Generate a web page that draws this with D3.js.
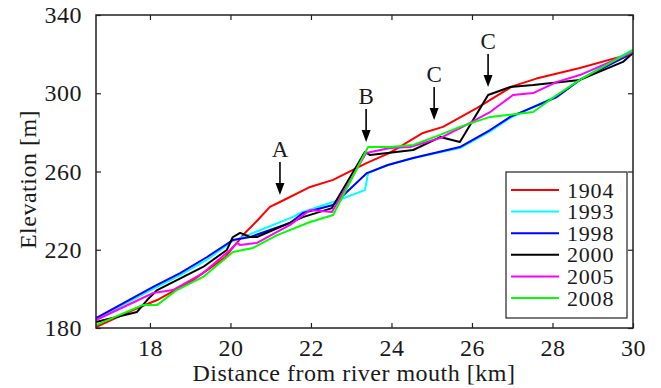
<!DOCTYPE html>
<html>
<head>
<meta charset="utf-8">
<script src="https://cdn.jsdelivr.net/npm/d3@7"></script>
<style>
  body { margin: 0; background: #fff; }
  svg text { font-family: 'Liberation Serif', 'Times New Roman', Times, 'DejaVu Serif', serif !important; fill: #1a1a1a; }
</style>
</head>
<body>
<div id="chart"></div>
<script>
// Longitudinal river bed profiles (km, m)
const years = ['1904', '1993', '1998', '2000', '2005', '2008'];
const colors = ['#ff0000', '#00ffff', '#0000ff', '#000000', '#ff00ff', '#00ff00'];

const p1904 = [[16.66,180.5],[17.58,189.2],[18.18,194.3],[19.07,204.5],[19.86,216.0],[20.36,228.6],[20.68,235.2],
  [20.98,241.9],[21.23,244.4],[21.98,252.1],[22.55,255.7],[23.39,264.4],[23.96,269.5],[24.78,279.7],[25.28,282.8],
  [26.13,292.5],[27.0,303.5],[27.6,307.5],[28.68,312.9],[29.85,319.6],[30.0,320.5]];
const p1993 = [[16.66,184.5],[18.08,200.0],[18.75,207.0],[19.42,215.0],[20.06,224.5],[20.49,228.0],[21.48,236.2],
  [21.80,239.3],[22.55,244.4],[23.34,250.5],[23.42,259.2],[23.91,263.3],[24.54,266.9],[25.70,272.0],[26.45,280.5],
  [26.95,287.4],[28.11,298.6],[28.68,307.0],[30.0,322.3]];
const p1998 = [[16.66,185.1],[18.08,201.0],[18.75,208.1],[19.42,216.3],[20.06,225.0],[20.49,226.5],[21.48,233.7],
  [21.80,238.8],[22.55,242.9],[23.39,259.2],[23.91,263.3],[24.54,266.9],[25.70,272.5],[26.45,281.2],[26.95,287.9],
  [28.11,298.1],[28.68,306.8],[30.0,320.6]];
const p2000 = [[16.66,183.1],[17.68,188.2],[17.93,194.3],[18.18,199.4],[19.32,211.2],[19.91,219.9],[20.06,226.5],
  [20.24,228.6],[20.49,226.5],[20.66,226.5],[21.80,236.7],[22.52,241.3],[23.34,270.0],[23.47,268.4],[24.54,271.0],
  [25.21,277.6],[25.70,275.1],[26.40,299.1],[26.95,303.2],[27.52,304.2],[28.68,306.8],[29.75,316.0],[30.0,320.6]];
const p2005 = [[16.66,184.1],[18.08,197.9],[18.57,199.4],[19.32,208.1],[19.99,219.9],[20.16,223.5],[20.24,222.4],
  [20.66,223.5],[21.48,232.7],[21.98,240.3],[22.52,239.3],[23.37,269.5],[23.96,272.0],[24.46,272.5],[25.21,277.1],
  [25.95,284.8],[26.45,290.4],[27.02,299.1],[27.52,300.1],[28.11,305.8],[28.68,309.3],[30.0,321.1]];
const p2008 = [[16.66,181.5],[17.83,191.8],[18.18,191.8],[18.67,199.4],[19.32,206.1],[20.06,218.8],[20.56,220.9],
  [21.16,227.5],[21.98,234.2],[22.55,237.8],[23.42,272.5],[23.96,272.5],[24.54,273.6],[25.21,278.7],[25.70,282.8],
  [26.45,287.9],[27.52,290.4],[28.11,299.1],[28.68,306.8],[30.0,322.1]];
const profiles = [p1904, p1993, p1998, p2000, p2005, p2008];

const xTicks = [18, 20, 22, 24, 26, 28, 30];
const yTicks = [180, 220, 260, 300, 340];

// Annotation arrows: label, distance, elevation at the arrow tip
const marks = [['A', 21.23, 248.0], ['B', 23.37, 275.1], ['C', 25.06, 286.3], ['C', 26.40, 303.2]];

const width = 661, height = 388;
const margin = {top: 15, right: 28, bottom: 60, left: 96};
const xScale = d3.scaleLinear().domain([16.66, 30]).range([margin.left, width - margin.right]);
const yScale = d3.scaleLinear().domain([180, 340]).range([height - margin.bottom, margin.top]);

const svg = d3.select('#chart').append('svg')
  .attr('width', width)
  .attr('height', height);

// profile lines
const line = d3.line().x(d => xScale(d[0])).y(d => yScale(d[1]));
svg.selectAll('path.profile')
  .data(profiles)
  .enter().append('path')
  .attr('class', 'profile')
  .attr('d', line)
  .attr('fill', 'none')
  .attr('stroke', (d, i) => colors[i])
  .attr('stroke-width', 2)
  .attr('stroke-linejoin', 'round');

// axes, ticks pointing inwards on all four sides
const tickLen = 5;
const axisStyle = g => {
  g.attr('font-family', null);
  g.select('.domain').remove();
  g.selectAll('line').attr('stroke', '#222').attr('stroke-width', 1.2);
  g.selectAll('text').attr('font-size', 24).attr('letter-spacing', 0.5).attr('fill', '#1a1a1a');
};
svg.append('g')
  .attr('transform', `translate(0,${yScale(180)})`)
  .call(d3.axisBottom(xScale).tickValues(xTicks).tickSize(-tickLen).tickPadding(11).tickFormat(d3.format('d')))
  .call(axisStyle);
svg.append('g')
  .attr('transform', `translate(0,${yScale(340)})`)
  .call(d3.axisTop(xScale).tickValues(xTicks).tickSize(-tickLen).tickFormat(''))
  .call(axisStyle);
svg.append('g')
  .attr('transform', `translate(${xScale(16.66)},0)`)
  .call(d3.axisLeft(yScale).tickValues(yTicks).tickSize(-tickLen).tickPadding(14).tickFormat(d3.format('d')))
  .call(axisStyle);
svg.append('g')
  .attr('transform', `translate(${xScale(30)},0)`)
  .call(d3.axisRight(yScale).tickValues(yTicks).tickSize(-tickLen).tickFormat(''))
  .call(axisStyle);

// frame
svg.append('rect')
  .attr('x', xScale(16.66)).attr('y', yScale(340))
  .attr('width', xScale(30) - xScale(16.66))
  .attr('height', yScale(180) - yScale(340))
  .attr('fill', 'none').attr('stroke', '#222').attr('stroke-width', 1.5);

// axis titles
svg.append('text')
  .attr('x', 354).attr('y', 381)
  .attr('text-anchor', 'middle').attr('font-size', 24).attr('letter-spacing', 0.5)
  .text('Distance from river mouth [km]');
svg.append('text')
  .attr('transform', `translate(36,${(yScale(180) + yScale(340)) / 2 + 8}) rotate(-90)`)
  .attr('text-anchor', 'middle').attr('font-size', 24).attr('letter-spacing', 0.5)
  .text('Elevation [m]');

// arrows with letters
const arrowLen = 33;
marks.forEach(([lab, km, el]) => {
  const x = xScale(km), tip = yScale(el);
  svg.append('line')
    .attr('x1', x).attr('x2', x)
    .attr('y1', tip - arrowLen).attr('y2', tip - 8)
    .attr('stroke', '#000').attr('stroke-width', 1.6);
  svg.append('path')
    .attr('d', `M${x - 4.5},${tip - 12}L${x + 4.5},${tip - 12}L${x},${tip}Z`)
    .attr('fill', '#000');
  svg.append('text')
    .attr('x', x).attr('y', tip - arrowLen - 5)
    .attr('text-anchor', 'middle').attr('font-size', 23)
    .text(lab);
});

// legend
const lg = svg.append('g').attr('transform', 'translate(506,172)');
lg.append('rect')
  .attr('width', 121).attr('height', 146)
  .attr('fill', '#fff').attr('stroke', '#222').attr('stroke-width', 1.2);
years.forEach((yr, i) => {
  const y = 18 + i * 21.6;
  lg.append('line')
    .attr('x1', 5).attr('x2', 53).attr('y1', y).attr('y2', y)
    .attr('stroke', colors[i]).attr('stroke-width', 2);
  lg.append('text')
    .attr('x', 61).attr('y', y + 7.5)
    .attr('font-size', 22).attr('letter-spacing', 0.8)
    .text(yr);
});
</script>
</body>
</html>
